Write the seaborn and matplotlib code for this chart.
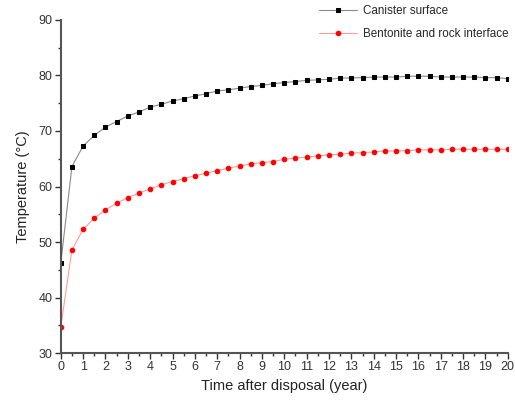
import numpy as np
import pandas as pd
import matplotlib.pyplot as plt
from matplotlib.ticker import MultipleLocator
import seaborn as sns

# Dados
years = [0, 0.5, 1, 1.5, 2, 2.5, 3, 3.5, 4, 4.5, 5, 5.5, 6, 6.5, 7, 7.5, 8, 8.5, 9, 9.5,
         10, 10.5, 11, 11.5, 12, 12.5, 13, 13.5, 14, 14.5, 15, 15.5, 16, 16.5, 17, 17.5,
         18, 18.5, 19, 19.5, 20]
canister = [46.2, 63.6, 67.3, 69.2, 70.7, 71.7, 72.7, 73.4, 74.3, 74.8, 75.4, 75.8, 76.3,
            76.7, 77.2, 77.4, 77.7, 78.0, 78.2, 78.5, 78.7, 78.9, 79.1, 79.2, 79.3, 79.5,
            79.55, 79.6, 79.7, 79.7, 79.7, 79.85, 79.85, 79.85, 79.7, 79.7, 79.7, 79.7,
            79.6, 79.6, 79.4]
interface = [34.7, 48.6, 52.3, 54.3, 55.8, 57.0, 58.0, 58.8, 59.6, 60.3, 60.9, 61.4, 61.95,
             62.4, 62.85, 63.3, 63.7, 64.05, 64.3, 64.5, 64.9, 65.1, 65.3, 65.5, 65.7, 65.8,
             66.0, 66.1, 66.2, 66.4, 66.4, 66.45, 66.6, 66.6, 66.6, 66.7, 66.7, 66.7, 66.7,
             66.7, 66.7]

df = pd.DataFrame({"year": years, "canister": canister, "interface": interface})

sns.set_style("ticks")
plt.rcParams["font.family"] = ["Liberation Sans", "DejaVu Sans"]

fig = plt.figure(figsize=(5.15, 4.05), dpi=100)
ax = fig.add_axes([0.118, 0.128, 0.868, 0.823])

sns.lineplot(data=df, x="year", y="canister", ax=ax, color="#8a8a8a", lw=0.8,
             marker="s", markersize=3, markerfacecolor="black", markeredgecolor="black",
             label="Canister surface")
sns.lineplot(data=df, x="year", y="interface", ax=ax, color="#ff9a9a", lw=0.8,
             marker="o", markersize=3.3, markerfacecolor="red", markeredgecolor="red",
             label="Bentonite and rock interface")

ax.set_xlim(0, 20)
ax.set_ylim(30, 90)
ax.xaxis.set_major_locator(MultipleLocator(1))
ax.xaxis.set_minor_locator(MultipleLocator(0.5))
ax.yaxis.set_major_locator(MultipleLocator(10))
ax.yaxis.set_minor_locator(MultipleLocator(5))
ax.tick_params(which="major", length=4, width=1, labelsize=9, colors="#333333", pad=2)
ax.tick_params(which="minor", length=2.5, width=1, colors="#333333")
sns.despine(ax=ax)
for s in ["left", "bottom"]:
    ax.spines[s].set_color("#555555")
    ax.spines[s].set_linewidth(1.5)

ax.set_xlabel("Time after disposal (year)", fontsize=10.5, color="#222222")
ax.set_ylabel("Temperature (°C)", fontsize=10.5, color="#222222", labelpad=6)

ax.legend(loc="upper right", bbox_to_anchor=(1.025, 1.075), frameon=False, fontsize=8.4,
          handlelength=3.3, handletextpad=0.5, labelspacing=0.95)

fig.savefig("out.png", dpi=100)
